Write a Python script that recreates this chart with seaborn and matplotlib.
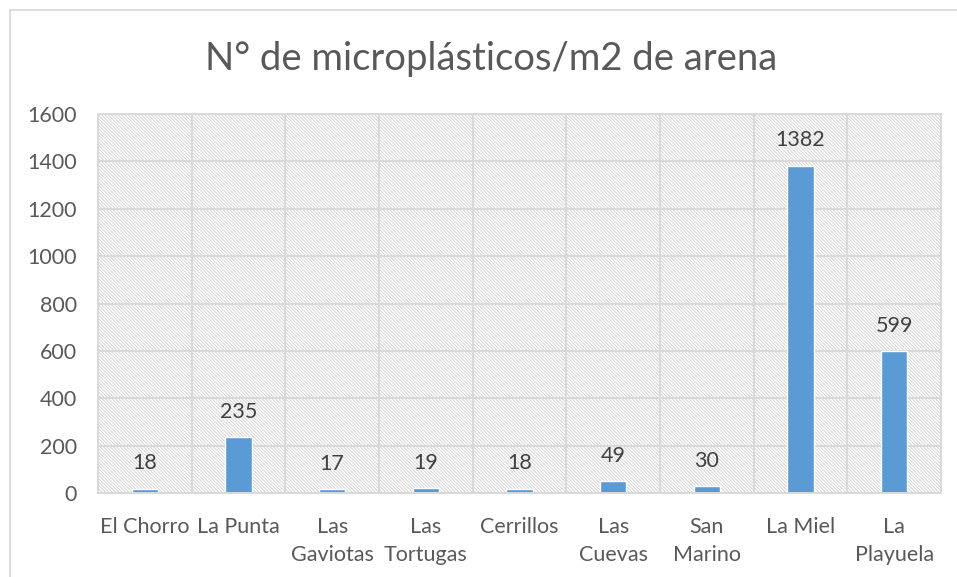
import numpy as np
import pandas as pd
import seaborn as sns
import matplotlib.pyplot as plt
from matplotlib.patches import Rectangle

# Data
playas = ["El Chorro", "La Punta", "Las\nGaviotas", "Las\nTortugas", "Cerrillos",
          "Las\nCuevas", "San\nMarino", "La Miel", "La\nPlayuela"]
microplasticos = [18, 235, 17, 19, 18, 49, 30, 1382, 599]
y_ticks = [0, 200, 400, 600, 800, 1000, 1200, 1400, 1600]

BAR_COLOR = "#5B9BD5"
GRID_COLOR = "#D9D9D9"
TEXT_COLOR = "#595959"

sns.set_style("white")
plt.rcParams['font.family'] = ['Lato', 'DejaVu Sans']
plt.rcParams['hatch.linewidth'] = 0.6

df = pd.DataFrame({"playa": playas, "n": microplasticos})

fig = plt.figure(figsize=(9.57, 5.77), dpi=100)
ax = fig.add_axes([0.1024, 0.1456, 0.8809, 0.6568])

# hatched plot-area background
ax.add_patch(Rectangle((0, 0), 1, 1, transform=ax.transAxes, facecolor="white",
                       edgecolor="#CFCFCF", hatch="\\" * 10, linewidth=0, zorder=0.1))

sns.barplot(data=df, x="playa", y="n", color=BAR_COLOR, width=0.28,
            saturation=1, ax=ax, zorder=2)

for c in ax.containers:
    ax.bar_label(c, labels=[str(v) for v in microplasticos], padding=11,
                 fontsize=15.5, color="#404040")

ax.set_xlim(-0.5, len(playas) - 0.5)
ax.set_ylim(0, 1600)
ax.set_yticks(y_ticks)
ax.set_yticklabels([str(t) for t in y_ticks])
ax.set_xticks(np.arange(len(playas)) + 0.5, minor=True)
ax.set_axisbelow(True)
ax.grid(True, axis="y", which="major", color=GRID_COLOR, linewidth=1.4)
ax.grid(True, axis="x", which="minor", color=GRID_COLOR, linewidth=1.4)
ax.grid(False, axis="x", which="major")

ax.tick_params(axis="both", which="both", length=0, labelsize=15.5,
               labelcolor=TEXT_COLOR)
ax.tick_params(axis="x", pad=17)
ax.tick_params(axis="y", pad=15)
for lbl in ax.get_xticklabels():
    lbl.set_linespacing(1.5)
ax.set_xlabel("")
ax.set_ylabel("")
for s in ax.spines.values():
    s.set_color(GRID_COLOR)
    s.set_linewidth(1.4)

fig.text(0.513, 0.898, "N° de microplásticos/m2 de arena", ha="center", va="center",
         fontsize=27.5, color=TEXT_COLOR)

# chart border
fig.patches.append(Rectangle((10 / 957, -0.05), 1.1, 1 - 10 / 577 + 0.05,
                             transform=fig.transFigure, fill=False,
                             edgecolor=GRID_COLOR, linewidth=1.3))

fig.savefig("out.png", dpi=100)
